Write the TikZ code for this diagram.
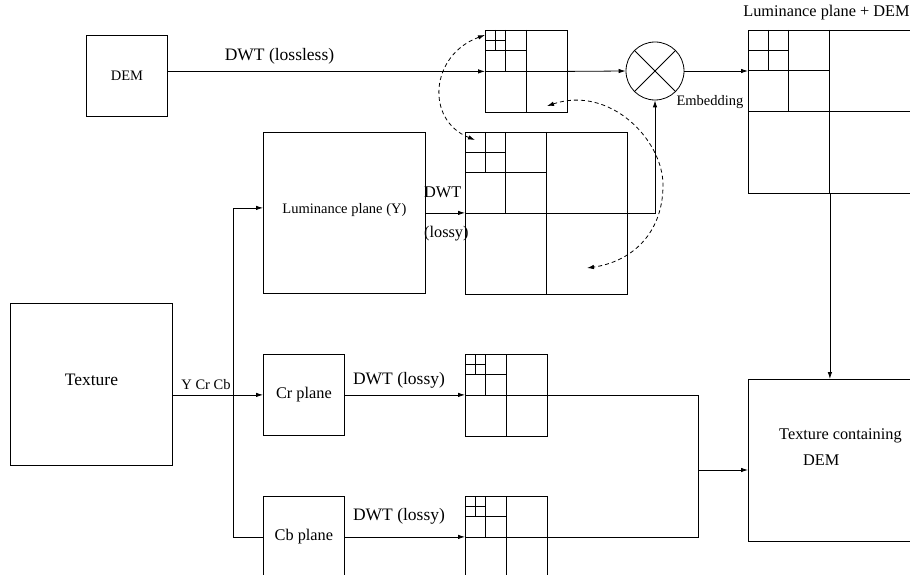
\documentclass[tikz,border=0pt]{standalone}
\usepackage{fontspec}
\setmainfont{Liberation Serif}
\usetikzlibrary{arrows.meta,calc}
\tikzset{
  box/.style={draw, line width=0.8pt, inner sep=0pt, anchor=north west},
  gridline/.style={line width=0.9pt},
  conn/.style={line width=0.8pt},
  arr/.style={conn, -{Latex[length=7pt,width=4.5pt]}},
  darr/.style={line width=0.8pt, dash pattern=on 4pt off 3pt,
    {Latex[length=7pt,width=4.5pt]}-{Latex[length=7pt,width=4.5pt]}},
  big/.style={font=\fontsize{17.5}{20}\selectfont, inner sep=0pt},
  mid/.style={font=\fontsize{16.3}{19}\selectfont, inner sep=0pt},
  small/.style={font=\fontsize{14.5}{17}\selectfont, inner sep=0pt},
}
\newcommand\wavelet[4]{% name, left, top, size
  \node[box, minimum width=#4pt, minimum height=#4pt] (#1) at (#2,#3) {};
  \foreach \k in {1,2,3}{
    \pgfmathsetmacro\hh{#4/2^\k}
    \draw[gridline] (#2+\hh,#3) -- (#2+\hh,#3+2*\hh);
    \draw[gridline] (#2,#3+\hh) -- (#2+2*\hh,#3+\hh);
  }
}
\begin{document}
\begin{tikzpicture}[x=1pt,y=-1pt]
\useasboundingbox (0,0) rectangle (910,575);
\clip (0,0) rectangle (910,575);

% plain boxes
\node[box, small, minimum width=81pt, minimum height=81pt] (dem) at (86,35) {DEM};
\node[box, minimum width=162pt, minimum height=161pt,
      label={[small, yshift=3pt]center:Luminance plane (Y)}] (y) at (263,132) {};
\node[box, minimum width=162pt, minimum height=162pt,
      label={[big, yshift=5pt]center:Texture}] (tex) at (10,303) {};
\node[box, mid, minimum width=81pt, minimum height=81pt] (cr) at (263,354) {Cr plane};
\node[box, mid, minimum width=81pt, minimum height=81pt] (cb) at (263,496) {Cb plane};
\node[box, minimum width=163pt, minimum height=162pt] (tcd) at (748,379) {};
\node[mid, anchor=west] (tc1) at (779,436) {Texture containing};
\node[mid, anchor=west] (tc2) at (803,460) {DEM};

% wavelet decompositions
\wavelet{tw}{485}{30}{82}
\wavelet{yw}{465}{132}{162}
\wavelet{crw}{465}{354}{82}
\wavelet{cbw}{465}{496}{82}
\wavelet{lum}{748}{30}{163}

% embedding operator
\node[draw, circle, line width=0.8pt, minimum size=58pt, inner sep=0pt] (mul) at (655,71) {};
\draw[conn] (mul.north west) -- (mul.south east);
\draw[conn] (mul.north east) -- (mul.south west);

% labels
\node[big] (lossless) at (279.5,56) {DWT (lossless)};
\node[small] (emb) at (710,102) {Embedding};
\node[mid] (lumlbl) at (826.5,12.5) {Luminance plane + DEM};
\node[mid, anchor=west] (ydwt) at (424,192) {DWT};
\node[mid, anchor=west] (ylossy) at (424,233.5) {(lossy)};
\node[small] (ycrcb) at (206,385) {Y Cr Cb};
\node[big] (crdwt) at (399,380) {DWT (lossy)};
\node[big] (cbdwt) at (399,516) {DWT (lossy)};

% connectors
\draw[arr] (dem.east |- tw.west) -- (tw.west);
\draw[arr] (tw.east) -- (mul.west);
\draw[arr] (mul.east) -- (mul.east -| lum.west);
\draw[arr] (lum.south) -- (tcd.north);
\draw[arr] (y.east) -- (y.east -| yw.west);
\draw[arr] (yw.east) -| (mul.south);
\draw[arr] (tex.east |- cr.west) -- (cr.west);
\coordinate (bus) at (233,0);
\coordinate (yin) at ($(y.west)+(0,-5)$);
\draw[arr] (cb.west) -- (cb.west -| bus) |- (yin);
\draw[arr] (cr.east) -- (cr.east -| crw.west);
\draw[arr] (cb.east) -- (cb.east -| cbw.west);
\coordinate (join) at (698,470);
\draw[conn] (crw.east) -| (join);
\draw[conn] (cbw.east) -| (join);
\draw[arr] (join) -- (join -| tcd.west);

% dashed coefficient exchanges
\coordinate (a1) at (485,35);
\coordinate (a2) at (475,140);
\draw[darr] (a1) .. controls (430,55) and (425,120) .. (a2);
\coordinate (b1) at (547,106);
\coordinate (b2) at (587,268);
\draw[darr] (b1) .. controls (610,85) and (663,140) .. (663,185)
                 .. controls (663,235) and (630,262) .. (b2);
\end{tikzpicture}
\end{document}
